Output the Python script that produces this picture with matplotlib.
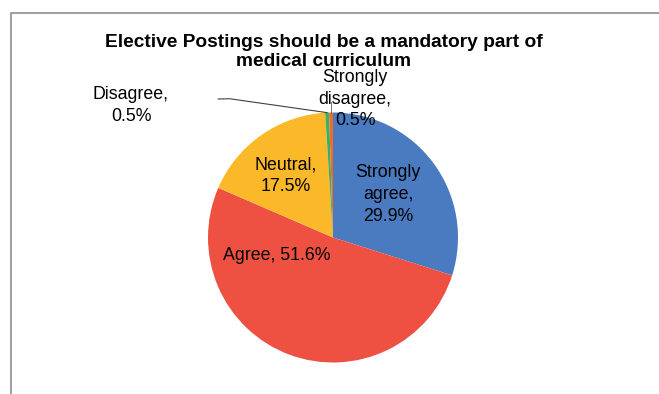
import numpy as np
import matplotlib
matplotlib.use("Agg")
from matplotlib import pyplot as plt
from matplotlib.lines import Line2D

plt.rcParams["font.family"] = ["Liberation Sans", "DejaVu Sans"]

# Survey data
categories = ["Strongly agree", "Agree", "Neutral", "Disagree", "Strongly disagree"]
percentages = [29.9, 51.6, 17.5, 0.5, 0.5]
colors = ["#4A7BC0", "#EE5142", "#FBB829", "#3DAE63", "#F26B22"]
title_lines = ["Elective Postings should be a mandatory part of", "medical curriculum"]

# Label placement (data coords, pie radius = 1)
label_pos = [(0.44, 0.344), (-0.45, -0.148), (-0.378, 0.496), (-1.616, 1.056), (0.176, 1.108)]
label_text = ["Strongly\nagree,\n{:.1f}%", "Agree, {:.1f}%", "Neutral,\n{:.1f}%",
              "Disagree,\n{:.1f}%", "Strongly\ndisagree,\n{:.1f}%"]

W, H = 659, 394
fig = plt.figure(figsize=(W / 100, H / 100), dpi=100)

# Pie axes: center (333, 237.5) px, radius 125 px
cx, cy, r = 333, 237.5, 125
ax = fig.add_axes([(cx - r) / W, (H - cy - r) / H, 2 * r / W, 2 * r / H])
wedges, _ = ax.pie(percentages, colors=colors, startangle=90, counterclock=False,
                   radius=1, wedgeprops=dict(linewidth=0))
ax.set_xlim(-1, 1)
ax.set_ylim(-1, 1)
ax.axis("off")

for (x, y), txt, p in zip(label_pos, label_text, percentages):
    ax.text(x, y, txt.format(p), ha="center", va="center", fontsize=12.8,
            linespacing=1.35, color="black")

# Leader lines for the two tiny slices
def edge_point(w):
    ang = np.deg2rad((w.theta1 + w.theta2) / 2)
    return np.cos(ang), np.sin(ang)

ex, ey = edge_point(wedges[3])
ax.plot([-0.918, -0.826, ex], [1.108, 1.110, ey], color="#404040", lw=0.8, clip_on=False)
ex, ey = edge_point(wedges[4])
ax.plot([ex, ex], [ey, 1.084], color="#606060", lw=0.6, clip_on=False)

# Title, one line at a time (baselines in px from top)
for line, base in zip(title_lines, [46.7, 65.5]):
    fig.text(324 / W, 1 - base / H, line, ha="center", va="baseline", fontsize=13.8,
             fontweight="bold")

# Chart frame (only left and top edges fall inside the picture)
fx, fy = 10.5 / W, 1 - 12.5 / H
fig.lines.append(Line2D([fx, fx, 1.01], [-0.01, fy, fy], transform=fig.transFigure,
                        color="#8C8C8C", linewidth=1.2))

fig.savefig("out.png", dpi=100, facecolor="white")
